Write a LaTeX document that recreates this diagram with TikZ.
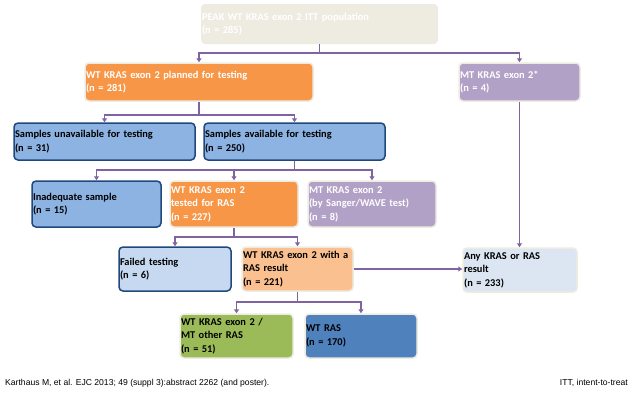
\documentclass[tikz,border=0pt]{standalone}
\usepackage{fontspec}
\setmainfont{Carlito}
\newfontfamily\arialf{Liberation Sans}
\usetikzlibrary{arrows.meta}
\definecolor{beige}{HTML}{EEECE1}
\definecolor{orng}{HTML}{F79646}
\definecolor{lorng}{HTML}{FAC090}
\definecolor{purp}{HTML}{B2A1C7}
\definecolor{blu}{HTML}{8DB3E2}
\definecolor{lblu}{HTML}{C6D9F1}
\definecolor{vlblu}{HTML}{DCE6F2}
\definecolor{navy}{HTML}{1F497D}
\definecolor{grn}{HTML}{9BBB59}
\definecolor{dblu}{HTML}{4F81BD}
\definecolor{conn}{HTML}{8064A2}
\tikzset{
  box/.style n args={2}{rectangle, rounded corners=4pt, minimum width=#1pt, minimum height=#2pt,
    text width=#1pt-2pt, inner xsep=1pt, inner ysep=2pt, align=left, font=\fontsize{10.4}{13.5}\selectfont\bfseries},
  pale/.style={draw=beige, line width=1.5pt},
  dark/.style={draw=navy, line width=1.5pt},
  arr/.style={draw=conn, line width=1.4pt, -{Triangle[length=4pt,width=5pt]}},
  ln/.style={draw=conn, line width=1.4pt},
}
\begin{document}
\begin{tikzpicture}[x=1pt,y=-1pt]
\useasboundingbox[fill=white] (0,0) rectangle (634,392);
\node[box={237}{40}, fill=beige, text=white] (top) at (319.5,24) {PEAK WT KRAS exon 2 ITT population\\(n = 285)};
\node[box={228}{38}, pale, fill=orng, text=white] (plan) at (199,82) {WT KRAS exon 2 planned for testing\\(n = 281)};
\node[box={121}{38}, pale, fill=purp, text=white] (mt) at (519.5,82) {MT KRAS exon 2*\\(n = 4)};
\node[box={181}{37}, dark, fill=blu] (unav) at (104.5,141.5) {Samples unavailable for testing\\(n = 31)};
\node[box={181}{37}, dark, fill=blu] (avail) at (294.5,141.5) {Samples available for testing\\(n = 250)};
\node[box={129}{46}, dark, fill=blu] (inad) at (96.5,204) {Inadequate sample\\(n = 15)};
\node[box={128}{46}, pale, fill=orng, text=white] (tested) at (234,204) {WT KRAS exon 2\\tested for RAS\\(n = 227)};
\node[box={128}{46}, pale, fill=purp, text=white] (sanger) at (372,204) {MT KRAS exon 2\\(by Sanger/WAVE test)\\(n = 8)};
\node[box={112}{44}, dark, fill=lblu] (failed) at (175,269) {Failed testing\\(n = 6)};
\node[box={111}{44}, pale, fill=lorng] (result) at (297.5,269) {WT KRAS exon 2 with a\\RAS result\\(n = 221)};
\node[box={114}{44}, pale, fill=vlblu] (any) at (520,270) {Any KRAS or RAS\\result\\(n = 233)};
\node[box={113}{44}, pale, fill=grn] (wtmt) at (236.5,336) {WT KRAS exon 2 /\\MT other RAS\\(n = 51)};
\node[box={112}{44}, pale, fill=dblu] (wtras) at (361,336) {WT RAS\\(n = 170)};

\coordinate (j1) at (319.5,53);
\coordinate (j2) at (199,115);
\coordinate (j3) at (294.5,170);
\coordinate (j4) at (234,237);
\coordinate (j5) at (297.5,302);

\draw[ln] (top.south) -- (j1);
\draw[arr] (j1) -| (plan.north);
\draw[arr] (j1) -| (mt.north);
\draw[arr] (mt.south) -- (mt.south |- any.north);
\draw[ln] (plan.south) -- (j2);
\draw[arr] (j2) -| (unav.north);
\draw[arr] (j2) -| (avail.north);
\draw[ln] (avail.south) -- (j3);
\draw[arr] (j3) -| (inad.north);
\draw[arr] (j3) -| (tested.north);
\draw[arr] (j3) -| (sanger.north);
\draw[ln] (tested.south) -- (j4);
\draw[arr] (j4) -| (failed.north);
\draw[arr] (j4) -| (result.north);
\draw[arr] (result.east) -- (result.east -| any.west);
\draw[ln] (result.south) -- (j5);
\draw[arr] (j5) -| (wtmt.north);
\draw[arr] (j5) -| (wtras.north);

\node[anchor=base west, inner sep=0pt, font=\arialf\fontsize{8.6}{10}\selectfont] (ref) at (5,385) {Karthaus M, et al. EJC 2013; 49 (suppl 3):abstract 2262 (and poster).};
\node[anchor=base east, inner sep=0pt, font=\arialf\fontsize{8.6}{10}\selectfont] (itt) at (628,385) {ITT, intent-to-treat};
\end{tikzpicture}
\end{document}
